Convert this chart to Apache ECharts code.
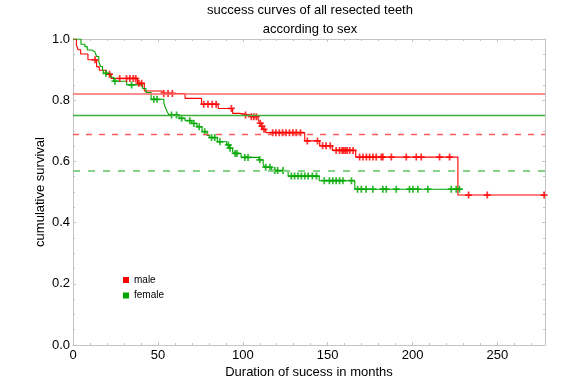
<!DOCTYPE html>
<html>
<head>
<meta charset="utf-8">
<script src="https://cdn.jsdelivr.net/npm/echarts@6/dist/echarts.min.js"></script>
<style>html,body{margin:0;padding:0;background:#fff}#c{width:581px;height:380px}</style>
</head>
<body>
<div id="c"></div>
<script>
const titleLines = ['success curves of all resected teeth', 'according to sex'];
const xName = 'Duration of sucess in months';
const yName = 'cumulative survival';
const seriesNames = ['male', 'female'];
const xMax = 278;
const xTickStep = 50;
const yTickStep = 0.2;

// Kaplan-Meier steps [time, survival]
const maleSteps = [[0,1.0],[2,0.98],[3,0.965],[4.5,0.951],[8.8,0.932],[13.9,0.909],[15.5,0.898],[19.5,0.885],[22.5,0.871],[38,0.855],[42,0.830],[52.5,0.822],[66,0.806],[75.7,0.787],[85.5,0.773],[94,0.757],[98,0.752],[104,0.746],[109,0.738],[110,0.725],[111,0.715],[112,0.705],[113.5,0.694],[136.5,0.667],[145.3,0.651],[152.7,0.636],[166.5,0.614],[226.7,0.490],[278,0.490]];
const maleCensor = [[13,0.932],[21.5,0.885],[27.5,0.871],[31.5,0.871],[33.5,0.871],[35.5,0.871],[37,0.871],[38.8,0.855],[40.4,0.855],[53.5,0.822],[56,0.822],[58.5,0.822],[77,0.787],[79.5,0.787],[82,0.787],[84.3,0.787],[93.3,0.773],[101.6,0.752],[105,0.746],[106.5,0.746],[108,0.746],[110.3,0.725],[111.3,0.715],[112.5,0.705],[117.6,0.694],[119.5,0.694],[121.5,0.694],[123.5,0.694],[125.5,0.694],[127.5,0.694],[129.5,0.694],[131.5,0.694],[134,0.694],[138,0.667],[144,0.667],[147,0.651],[149,0.651],[151.5,0.651],[155,0.636],[157,0.636],[158.5,0.636],[159.5,0.636],[160.5,0.636],[161.5,0.636],[163,0.636],[165,0.636],[168.8,0.614],[170.8,0.614],[172.8,0.614],[174.7,0.614],[176.7,0.614],[178.6,0.614],[181.6,0.614],[182.5,0.614],[187.5,0.614],[196.3,0.614],[202.2,0.614],[205.1,0.614],[215.9,0.614],[221.8,0.614],[233,0.49],[244,0.49],[277.5,0.49]];
const femaleSteps = [[0,1.0],[4.7,0.983],[7,0.975],[8.4,0.964],[11,0.958],[12.9,0.953],[13.9,0.943],[15.2,0.926],[16.2,0.91],[17.4,0.901],[18.2,0.888],[22,0.875],[24,0.862],[31.6,0.85],[41,0.838],[43,0.825],[46,0.803],[53.5,0.79],[54.5,0.775],[55.5,0.762],[56.5,0.752],[62.5,0.741],[66,0.733],[70,0.724],[73,0.713],[76,0.697],[79,0.685],[80.5,0.678],[85,0.664],[90.5,0.654],[92,0.643],[94,0.633],[95,0.626],[99,0.613],[109.5,0.605],[112,0.59],[113,0.581],[117,0.57],[126.7,0.552],[145,0.537],[166,0.509],[229,0.509]];
const femaleCensor = [[19.4,0.888],[24.7,0.862],[34.5,0.85],[47.6,0.803],[49.5,0.803],[58,0.752],[61,0.752],[64,0.741],[68.8,0.733],[71.2,0.724],[74.3,0.713],[77.6,0.697],[81.6,0.678],[83.5,0.678],[86.5,0.664],[91.5,0.654],[92.5,0.643],[95.5,0.626],[96.6,0.626],[101.2,0.613],[103.1,0.613],[110,0.605],[113.5,0.581],[116,0.581],[118.8,0.57],[120.5,0.57],[123.7,0.57],[128.6,0.552],[130.5,0.552],[132.5,0.552],[134.5,0.552],[136.5,0.552],[138.5,0.552],[141,0.552],[143.4,0.552],[148,0.537],[151,0.537],[153,0.537],[155,0.537],[157,0.537],[159,0.537],[164,0.537],[167.6,0.509],[169.8,0.509],[172.6,0.509],[176.6,0.509],[182.5,0.509],[184.5,0.509],[190.4,0.509],[198.2,0.509],[200.2,0.509],[203.1,0.509],[209,0.509],[222.8,0.509],[225.7,0.509],[227.6,0.509]];

// reference levels
const maleSolid = 0.822, femaleSolid = 0.751, maleDashed = 0.695, femaleDashed = 0.570;

const RED = '#ff0000', GREEN = '#00a600';
const plus = 'path://M3,0H5V3H8V5H5V8H3V5H0V3H3Z';
const axisGray = '#c4c4c4';
const font = 'Liberation Sans, Arial, sans-serif';

function axisCommon() {
  return {
    axisLine: { show: true, onZero: false, lineStyle: { color: axisGray, width: 1 } },
    axisTick: { show: true, inside: true, length: 3, lineStyle: { color: axisGray } },
    minorTick: { show: true, length: 2, lineStyle: { color: axisGray } },
    splitLine: { show: false }
  };
}

const chart = echarts.init(document.getElementById('c'), null, { renderer: 'canvas' });
chart.setOption({
  animation: false,
  backgroundColor: '#fff',
  textStyle: { fontFamily: font },
  grid: { left: 73, right: 36, top: 39, bottom: 35, containLabel: false, outerBoundsMode: 'none' },
  graphic: [
    { type: 'text', x: 310, y: 10, style: { text: titleLines[0], fill: '#000', font: '13px ' + font, textAlign: 'center', textVerticalAlign: 'middle' } },
    { type: 'text', x: 310, y: 29, style: { text: titleLines[1], fill: '#000', font: '13px ' + font, textAlign: 'center', textVerticalAlign: 'middle' } }
  ],
  legend: {
    data: seriesNames, orient: 'vertical', left: 118, top: 270,
    icon: 'rect', itemWidth: 6, itemHeight: 6, itemGap: 5.5,
    textStyle: { fontSize: 10, color: '#000', padding: [0, 0, 0, 0] }
  },
  xAxis: [
    Object.assign(axisCommon(), {
      type: 'value', min: 0, max: xMax, interval: xTickStep, position: 'bottom',
      minorTick: { show: true, splitNumber: 5, length: 2, lineStyle: { color: axisGray } },
      axisLabel: { fontSize: 13, color: '#000', margin: 4, showMaxLabel: false },
      name: xName, nameLocation: 'middle', nameGap: 21, nameMoveOverlap: false,
      nameTextStyle: { fontSize: 13, color: '#000' }
    }),
    Object.assign(axisCommon(), {
      type: 'value', min: 0, max: xMax, interval: xTickStep, position: 'top',
      minorTick: { show: true, splitNumber: 5, length: 2, lineStyle: { color: axisGray } },
      axisLabel: { show: false }
    })
  ],
  yAxis: [
    Object.assign(axisCommon(), {
      type: 'value', min: 0, max: 1, interval: yTickStep, position: 'left',
      minorTick: { show: true, splitNumber: 4, length: 2, lineStyle: { color: axisGray } },
      axisLabel: { fontSize: 13, color: '#000', margin: 3, formatter: v => v.toFixed(1) },
      name: yName, nameLocation: 'middle', nameGap: 26, nameMoveOverlap: false,
      nameTextStyle: { fontSize: 13, color: '#000' }
    }),
    Object.assign(axisCommon(), {
      type: 'value', min: 0, max: 1, interval: yTickStep, position: 'right',
      minorTick: { show: true, splitNumber: 4, length: 2, lineStyle: { color: axisGray } },
      axisLabel: { show: false }
    })
  ],
  series: [
    {
      name: 'refMale', type: 'line', data: [], silent: true,
      markLine: {
        silent: true, symbol: 'none', label: { show: false },
        data: [
          { yAxis: maleSolid, lineStyle: { color: '#ff6a6a', width: 1.6, type: 'solid' } },
          { yAxis: maleDashed, lineStyle: { color: '#ff5a5a', width: 1.4, type: [6, 7] } }
        ]
      }
    },
    {
      name: 'refFemale', type: 'line', data: [], silent: true,
      markLine: {
        silent: true, symbol: 'none', label: { show: false },
        data: [
          { yAxis: femaleSolid, lineStyle: { color: '#3fae3f', width: 1.3, type: 'solid' } },
          { yAxis: femaleDashed, lineStyle: { color: '#86d286', width: 2.2, type: [7, 8] } }
        ]
      }
    },
    { name: 'male', type: 'line', step: 'end', data: maleSteps, showSymbol: false, color: RED, lineStyle: { color: RED, width: 1.1 }, z: 3 },
    { name: 'female', type: 'line', step: 'end', data: femaleSteps, showSymbol: false, color: GREEN, lineStyle: { color: GREEN, width: 1.1 }, z: 3 },
    { name: 'maleCens', type: 'scatter', data: maleCensor, symbol: plus, symbolSize: 7, itemStyle: { color: RED }, z: 4 },
    { name: 'femaleCens', type: 'scatter', data: femaleCensor, symbol: plus, symbolSize: 7, itemStyle: { color: GREEN }, z: 4 }
  ]
});
</script>
</body>
</html>
